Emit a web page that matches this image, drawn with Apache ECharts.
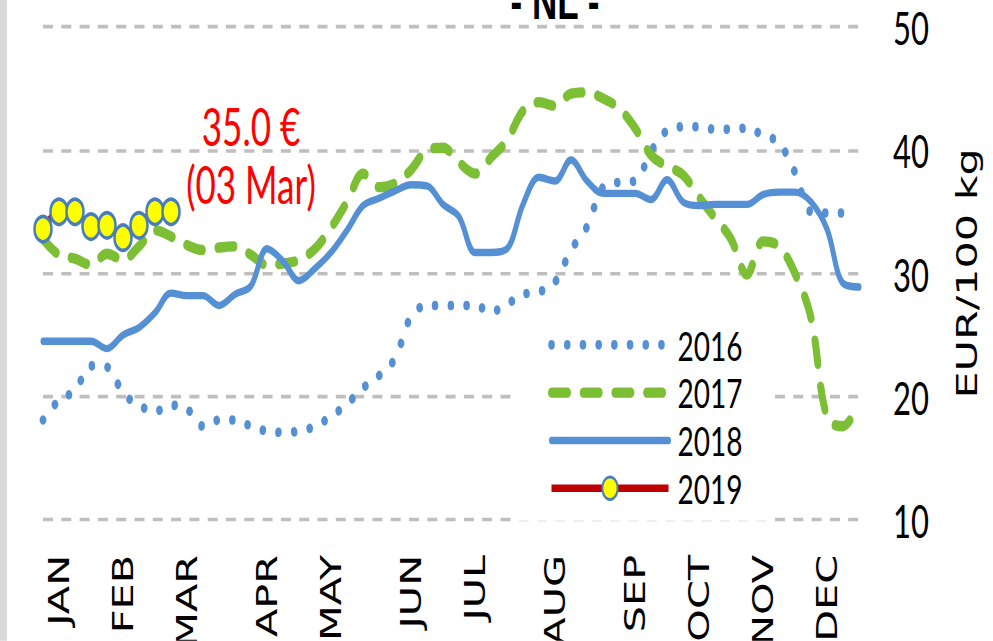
<!DOCTYPE html>
<html>
<head>
<meta charset="utf-8">
<title>NL</title>
<script src="https://cdn.jsdelivr.net/npm/echarts@6.0.0/dist/echarts.min.js"></script>
<style>
  html, body { margin: 0; padding: 0; background: #fff; overflow: hidden; }
  #wrap { width: 993px; height: 641px; overflow: hidden; }
  /* the source picture is stretched vertically; draw flat and stretch the same way */
  #chart { width: 993px; transform-origin: 0 0; }
</style>
</head>
<body>
<div id="wrap"><div id="chart"></div></div>
<script>
// week numbers (x categories)
const weeks = ['1', '2', '3', '4', '5', '6', '7', '8', '9', '10', '11', '12', '13',
  '14', '15', '16', '17', '18', '19', '20', '21', '22', '23', '24', '25', '26',
  '27', '28', '29', '30', '31', '32', '33', '34', '35', '36', '37', '38', '39',
  '40', '41', '42', '43', '44', '45', '46', '47', '48', '49', '50', '51', '52'];

// month names and the week index where each one is written
const monthNames = ['JAN', 'FEB', 'MAR', 'APR', 'MAY', 'JUN', 'JUL', 'AUG', 'SEP', 'OCT', 'NOV', 'DEC'];
const monthWeekIdx = [1, 5, 9, 14, 18, 23, 27, 32, 37, 41, 45, 49];

// EUR/100 kg, weekly
const price2016 = [18.1, 19.7, 20.5, 22.5, 22.4, 20.3, 19.3, 18.8, 19.3, 19.0, 17.6, 18.1, 18.1,
  17.6, 17.2, 17.1, 17.2, 17.6, 18.4, 19.4, 20.7, 21.7, 23.1, 26.5, 27.4, 27.4,
  27.4, 27.4, 26.9, 27.5, 28.3, 28.5, 29.3, 31.9, 33.8, 37.0, 37.4, 37.5, 39.9,
  41.6, 41.9, 41.9, 41.7, 41.7, 41.8, 41.2, 40.6, 38.2, 35.0, 34.9, 34.9, null];
const price2017 = [32.8, 31.5, 31.2, 30.7, 31.6, 31.1, 32.2, 33.5, 33.0, 32.3, 31.9, 32.1, 32.2,
  31.5, 30.7, 30.8, 31.1, 32.0, 33.7, 35.8, 38.1, 37.0, 37.3, 38.4, 40.0, 40.2,
  39.0, 38.1, 39.4, 40.8, 43.2, 43.9, 43.6, 44.6, 44.7, 44.2, 43.4, 41.8, 39.6,
  38.7, 38.0, 36.2, 34.5, 32.8, 29.9, 32.6, 32.2, 30.0, 26.4, 18.3, 17.6, 19.5];
const price2018 = [24.5, 24.5, 24.5, 24.5, 23.9, 25.0, 25.6, 26.8, 28.4, 28.2, 28.2, 27.4, 28.3,
  29.0, 32.0, 31.0, 29.4, 30.4, 31.7, 33.5, 35.5, 36.1, 36.7, 37.2, 37.1, 35.6,
  34.6, 31.7, 31.7, 32.0, 35.6, 37.8, 37.5, 39.2, 37.5, 36.5, 36.5, 36.5, 36.0,
  37.6, 35.8, 35.5, 35.6, 35.6, 35.6, 36.4, 36.6, 36.6, 35.8, 33.6, 29.2, 28.9];
const price2019 = [33.6, 35.0, 35.0, 33.8, 33.9, 32.9, 33.9, 35.0, 35.0];
const lastDate2019 = '03 Mar';

const S = 1.48; // vertical stretch of the picture
const W = 993;
const H = 641;

const numFont = "Lato, 'Liberation Sans', sans-serif";
const blue = '#5590d5';
const green = '#7cbf35';

const monthAt = {};
monthWeekIdx.forEach((w, k) => { monthAt[w] = monthNames[k]; });

const last19 = price2019.length - 1;

const el = document.getElementById('chart');
el.style.height = (H / S) + 'px';
el.style.transform = 'scaleY(' + S + ')';

const chart = echarts.init(el, null, { renderer: 'svg' });

const option = {
  backgroundColor: '#fff',
  animation: false,
  grid: {
    left: 43,
    right: W - 859,
    top: 27 / S,
    bottom: (H - 520) / S,
    containLabel: false,
    outerBoundsMode: 'none'
  },
  graphic: [
    {
      type: 'rect',
      left: 0,
      top: 0,
      shape: { width: 7, height: H / S },
      style: { fill: '#d9d9d9' }
    },
    {
      type: 'text',
      x: 555,
      y: 18,
      style: {
        text: '- NL -',
        fontFamily: "'Liberation Sans', sans-serif",
        fontWeight: 'bold',
        fontSize: 35,
        fill: '#000',
        align: 'center',
        verticalAlign: 'bottom'
      }
    }
  ],
  legend: {
    orient: 'vertical',
    left: 517,
    top: 211,
    backgroundColor: '#fff',
    padding: [8, 29, 8, 31],
    itemWidth: 117,
    itemHeight: 19,
    itemGap: 4.3,
    selectedMode: false,
    textStyle: {
      fontFamily: numFont,
      fontSize: 28,
      lineHeight: 28,
      color: '#000',
      padding: [0, 0, 0, 4]
    },
    data: [
      { name: '2016', lineStyle: { width: 6.5 }, itemStyle: { opacity: 0 } },
      { name: '2017', lineStyle: { width: 7 }, itemStyle: { opacity: 0 } },
      { name: '2018', lineStyle: { width: 5 }, itemStyle: { opacity: 0 } },
      { name: '2019', lineStyle: { width: 5 } }
    ]
  },
  xAxis: {
    type: 'category',
    data: weeks,
    boundaryGap: false,
    axisLine: { show: false },
    axisTick: { show: false },
    splitLine: { show: false },
    axisLabel: {
      interval: 0,
      rotate: 90,
      margin: 35 / S,
      color: '#000',
      fontFamily: 'DejaVu Sans',
      fontSize: 28,
      formatter: (v, i) => monthAt[i] || ''
    }
  },
  yAxis: {
    type: 'value',
    position: 'right',
    min: 10,
    max: 50,
    interval: 10,
    axisLine: { show: false },
    axisTick: { show: false },
    axisLabel: {
      margin: 34,
      color: '#000',
      fontFamily: numFont,
      fontSize: 31
    },
    splitLine: {
      lineStyle: { color: '#bfbfbf', width: 2.4, type: [10, 8.3] }
    },
    name: 'EUR/100 kg',
    nameLocation: 'middle',
    nameRotate: 90,
    nameGap: 94,
    nameTextStyle: {
      fontFamily: 'DejaVu Sans',
      fontSize: 29,
      color: '#000'
    }
  },
  series: [
    {
      name: '2016',
      type: 'line',
      data: price2016,
      smooth: 0.35,
      symbol: 'none',
      lineStyle: { color: blue, width: 6.5, type: [0.1, 15.6], cap: 'round' },
      itemStyle: { color: blue },
      emphasis: { disabled: true }
    },
    {
      name: '2017',
      type: 'line',
      data: price2017,
      smooth: 0.35,
      symbol: 'none',
      lineStyle: { color: green, width: 7, type: [16, 15.7], cap: 'round' },
      itemStyle: { color: green },
      emphasis: { disabled: true }
    },
    {
      name: '2018',
      type: 'line',
      data: price2018,
      smooth: 0.35,
      symbol: 'none',
      lineStyle: { color: blue, width: 5, cap: 'round' },
      itemStyle: { color: blue },
      emphasis: { disabled: true }
    },
    {
      name: '2019',
      type: 'line',
      data: price2019,
      smooth: 0.35,
      symbol: 'circle',
      symbolSize: 17,
      z: 5,
      lineStyle: { color: '#c00000', width: 5 },
      itemStyle: { color: '#ffff00', borderColor: '#4a7ebb', borderWidth: 2.5 },
      emphasis: { disabled: true },
      markPoint: {
        symbol: 'circle',
        symbolSize: 0,
        data: [{ coord: [last19, price2019[last19]] }],
        label: {
          show: true,
          position: 'inside',
          offset: [80, -39],
          color: '#ff0000',
          fontFamily: numFont,
          fontSize: 35,
          lineHeight: 58 / S,
          align: 'center',
          formatter: () => price2019[last19].toFixed(1) + ' €\n(' + lastDate2019 + ')'
        }
      }
    }
  ]
};

chart.setOption(option);
</script>
</body>
</html>
